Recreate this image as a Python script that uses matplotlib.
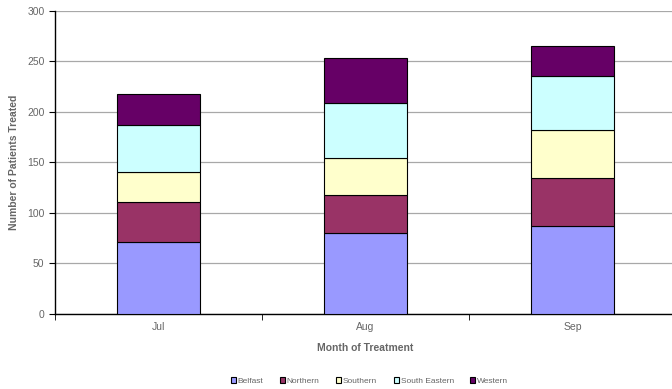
import matplotlib
matplotlib.use("Agg")
import matplotlib.pyplot as plt
import numpy as np

plt.rcParams['font.family'] = ['Liberation Sans', 'DejaVu Sans']

months = ["Jul", "Aug", "Sep"]
regions = ["Belfast", "Northern", "Southern", "South Eastern", "Western"]
belfast = [71, 80, 87]
northern = [40, 38, 48]
southern = [30, 36, 47]
south_eastern = [46, 55, 54]
western = [31, 44, 29]
series = [belfast, northern, southern, south_eastern, western]
colors = ["#9999FF", "#993366", "#FFFFCC", "#CCFFFF", "#660066"]
yticks = [0, 50, 100, 150, 200, 250, 300]

fig = plt.figure(figsize=(6.72, 3.89), dpi=100)
ax = fig.add_axes([0.0818, 0.1928, 0.924, 0.779])

x = np.arange(len(months))
bottom = np.zeros(len(months))
handles = []
for name, vals, c in zip(regions, series, colors):
    h = ax.bar(x, vals, width=0.4, bottom=bottom, color=c, edgecolor="black",
               linewidth=0.8, label=name, zorder=3)
    handles.append(h)
    bottom += np.array(vals)

ax.set_xlim(-0.5, len(months) - 0.5)
ax.set_ylim(0, 300)
ax.set_yticks(yticks)
ax.set_xticks(x)
ax.set_xticklabels(months)
ax.set_xticks(np.arange(len(months) + 1) - 0.5, minor=True)
ax.tick_params(axis='x', which='major', length=0, pad=6)
ax.tick_params(axis='x', which='minor', length=4, direction='out')
ax.tick_params(axis='y', length=4, direction='out', labelcolor='#666666', labelsize=7.5)
ax.tick_params(axis='x', labelcolor='#666666', labelsize=7.5)
ax.tick_params(axis='both', which='both', color='black')
ax.yaxis.grid(True, color='#A8A8A8', linewidth=0.9, zorder=0)
ax.set_axisbelow(True)
for s in ["top", "right"]:
    ax.spines[s].set_visible(False)
for s in ["left", "bottom"]:
    ax.spines[s].set_color("black")
    ax.spines[s].set_linewidth(1.0)

ax.set_ylabel("Number of Patients Treated", fontsize=7.5, fontweight='bold',
              color='#666666', labelpad=6)
ax.set_xlabel("Month of Treatment", fontsize=7.5, fontweight='bold',
              color='#666666', labelpad=8)

leg = fig.legend(handles=handles, labels=regions, loc='center', ncol=5,
                 bbox_to_anchor=(0.55, 0.02), frameon=False, fontsize=6,
                 handlelength=0.6, handleheight=0.6, handletextpad=0.2,
                 columnspacing=2.0, labelcolor='#666666')

fig.savefig("out.png", dpi=100)
